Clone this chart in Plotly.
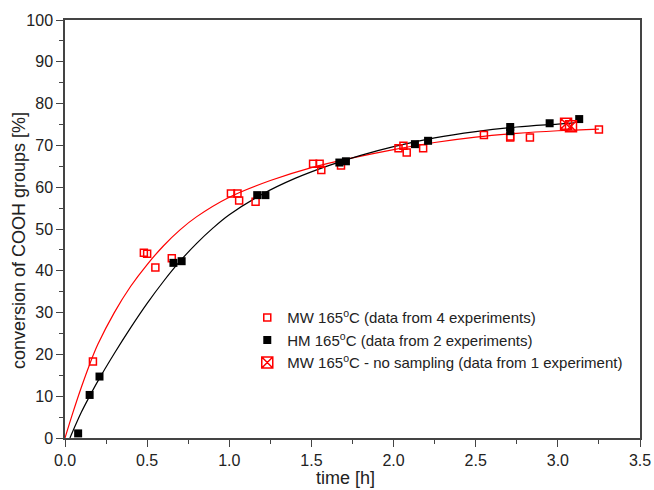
import plotly.graph_objects as go

# MW 165°C (data from 4 experiments) - open red squares
mw_t = [0.17, 0.48, 0.50, 0.55, 0.65, 1.01, 1.05, 1.06, 1.16, 1.51, 1.55, 1.56, 1.68,
        2.03, 2.06, 2.08, 2.18, 2.55, 2.71, 2.71, 2.83, 3.25]
mw_y = [18.3, 44.3, 44.1, 40.8, 43.0, 58.5, 58.5, 56.8, 56.5, 65.6, 65.6, 64.1, 65.2,
        69.3, 69.9, 68.3, 69.3, 72.5, 71.9, 72.1, 71.9, 73.8]

# HM 165°C (data from 2 experiments) - filled black squares
hm_t = [0.08, 0.15, 0.21, 0.66, 0.71, 1.17, 1.22, 1.67, 1.71, 2.13, 2.21, 2.71, 2.71, 2.95, 3.13]
hm_y = [1.1, 10.3, 14.7, 41.9, 42.3, 58.1, 58.1, 65.9, 66.2, 70.3, 71.1, 74.4, 73.4, 75.3, 76.3]

# MW 165°C - no sampling (data from 1 experiment)
ns_t = [3.05, 3.08]
ns_y = [75.2, 74.6]

# fitted curves
red_t = [0, 0.05, 0.1, 0.15, 0.2, 0.3, 0.4, 0.5, 0.6, 0.7, 0.8, 1.0, 1.25, 1.5, 1.75,
         2.0, 2.25, 2.5, 2.75, 3.0, 3.25]
red_y = [0, 6.3, 12.2, 17.6, 22.4, 30.0, 36.3, 41.5, 46.0, 49.8, 52.9, 57.6, 61.6, 64.7,
         67.0, 69.0, 70.7, 72.0, 72.9, 73.5, 73.9]
blk_t = [0.03, 0.1, 0.15, 0.2, 0.3, 0.4, 0.5, 0.6, 0.7, 0.8, 0.9, 1.0, 1.2, 1.4, 1.6,
         1.8, 2.0, 2.25, 2.5, 2.75, 3.0, 3.1]
blk_y = [0, 6.2, 10.0, 13.6, 20.2, 26.4, 32.2, 37.5, 42.3, 46.5, 50.2, 53.4, 58.3, 62.1,
         65.1, 67.6, 69.7, 71.8, 73.3, 74.4, 75.1, 75.4]

x_ticks = [0.0, 0.5, 1.0, 1.5, 2.0, 2.5, 3.0, 3.5]
y_ticks = [0, 10, 20, 30, 40, 50, 60, 70, 80, 90, 100]

FONT = "Arial, Liberation Sans, sans-serif"
RED = "#ff0000"

fig = go.Figure()
fig.add_trace(go.Scatter(x=red_t, y=red_y, mode="lines", line=dict(color=RED, width=1.2, shape="spline"),
                         showlegend=False, hoverinfo="skip"))
fig.add_trace(go.Scatter(x=blk_t, y=blk_y, mode="lines", line=dict(color="black", width=1.2, shape="spline"),
                         showlegend=False, hoverinfo="skip"))
fig.add_trace(go.Scatter(x=mw_t, y=mw_y, mode="markers",
                         marker=dict(symbol="square-open", size=7, color=RED, line=dict(width=1.5, color=RED)),
                         name="MW 165<sup>o</sup>C (data from 4 experiments)"))
fig.add_trace(go.Scatter(x=hm_t, y=hm_y, mode="markers",
                         marker=dict(symbol="square", size=8, color="black"),
                         name="HM 165<sup>o</sup>C (data from 2 experiments)"))
fig.add_trace(go.Scatter(x=ns_t, y=ns_y, mode="markers",
                         marker=dict(symbol="square-x-open", size=11, color=RED, line=dict(width=1.5, color=RED)),
                         name="MW 165<sup>o</sup>C - no sampling (data from 1 experiment)"))

axis_common = dict(showline=True, linecolor="#444", linewidth=1.5, mirror=True, showgrid=False,
                   zeroline=False, ticks="outside", ticklen=7, tickwidth=1.3, tickcolor="#444",
                   automargin=False,
                   tickfont=dict(family=FONT, size=16, color="#222"))
fig.update_xaxes(range=[0, 3.5], tickvals=x_ticks, ticktext=[f"{v:.1f}" for v in x_ticks],
                 minor=dict(ticks="outside", ticklen=4, tickwidth=1.2, tickcolor="#444", dtick=0.25),
                 **axis_common)
fig.update_yaxes(range=[0, 100], tickvals=y_ticks, ticktext=[str(v) for v in y_ticks],
                 minor=dict(ticks="outside", ticklen=4, tickwidth=1.2, tickcolor="#444", dtick=5),
                 **axis_common)
fig.add_annotation(text="time [h]", xref="paper", yref="paper", x=0.487, y=-0.096,
                   xanchor="center", yanchor="middle", showarrow=False,
                   font=dict(family=FONT, size=18, color="#222"))
fig.add_annotation(text="conversion of COOH groups [%]", xref="paper", yref="paper", x=-0.08, y=0.471,
                   xanchor="center", yanchor="middle", textangle=-90, showarrow=False,
                   font=dict(family=FONT, size=18, color="#222"))
fig.update_layout(width=654, height=490, margin=dict(l=65, r=14, t=20, b=52),
                  plot_bgcolor="white", paper_bgcolor="white",
                  font=dict(family=FONT, color="#222"),
                  legend=dict(x=0.317, y=0.327, xanchor="left", yanchor="top", bgcolor="rgba(0,0,0,0)",
                              font=dict(family=FONT, size=15, color="#222"), tracegroupgap=0))
fig.write_html("out.html")
